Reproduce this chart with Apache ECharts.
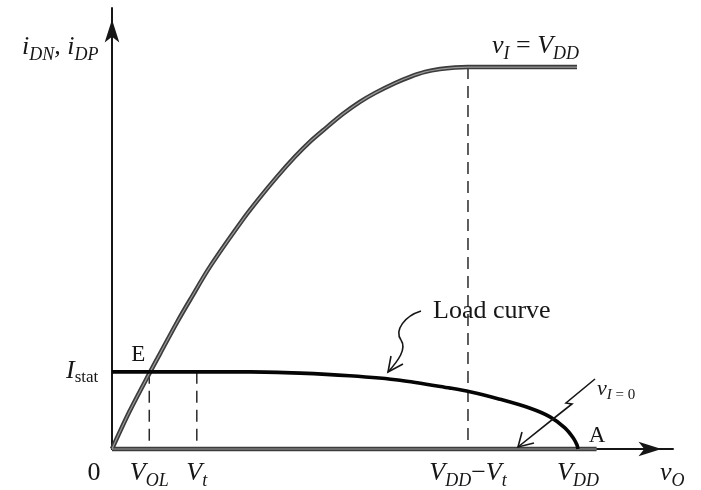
<!DOCTYPE html>
<html>
<head>
<meta charset="utf-8">
<script src="https://cdn.jsdelivr.net/npm/echarts@6/dist/echarts.min.js"></script>
<style>
  html, body { margin: 0; padding: 0; background: #fff; }
  #chart { width: 701px; height: 490px; }
</style>
</head>
<body>
<div id="chart"></div>
<script>
// Output voltage v_O in volts (V_DD = 5 V); currents normalised to the axis height.

// Driver NMOS current for v_I = V_DD (triode rise, then saturation)
const driverV = [0, 0.19, 0.41, 0.52, 0.70, 0.84, 1.05, 1.41, 1.59, 1.77, 1.96, 2.12, 2.29, 2.48, 2.66, 2.82, 3.04, 3.20, 3.36, 3.52, 3.68, 3.82, 4.99];
const driverI = [0, 0.086, 0.175, 0.218, 0.288, 0.339, 0.413, 0.522, 0.571, 0.617, 0.662, 0.696, 0.727, 0.760, 0.787, 0.807, 0.830, 0.844, 0.855, 0.8615, 0.865, 0.866, 0.866];

// Load device current (load curve)
const loadV = [0, 1.48, 2.02, 2.55, 3.09, 3.63, 3.84, 4.16, 4.48, 4.70, 4.86, 4.95, 4.99, 5.00];
const loadI = [0.175, 0.175, 0.172, 0.166, 0.156, 0.138, 0.130, 0.113, 0.093, 0.073, 0.048, 0.025, 0.009, 0];

// Driver current for v_I = 0 (zero current along the axis)
const offV = [0, 5.2];
const offI = [0, 0];

// Marked voltages on the v_O axis and the static current level
const markerKeys = ['VOL', 'Vt', 'VDDmVt', 'VDD'];
const markerV = [0.40, 0.91, 3.82, 5.00];
const I_STAT = 0.175;
const I_SAT = 0.866;

const pair = (xs, ys) => xs.map((x, i) => [x, ys[i]]);
const mv = k => markerV[markerKeys.indexOf(k)];

const FAMILY = '"Liberation Serif", "DejaVu Serif", serif';
const INK = '#161616';

const axisCommon = {
  type: 'value',
  min: 0,
  axisLine: {
    show: true, onZero: false,
    lineStyle: { color: INK, width: 2 },
    symbol: ['none', 'arrow'], symbolSize: [11, 23], symbolOffset: [0, -11.5]
  },
  axisTick: { show: false },
  axisLabel: { show: false },
  splitLine: { show: false }
};

function lineSeries(data, color, width, extra) {
  return Object.assign({
    type: 'line', data: data, showSymbol: false, silent: true, clip: false,
    lineStyle: { color: color, width: width, cap: 'butt', join: 'round' }
  }, extra || {});
}

function dashed(x, yTop) {
  return lineSeries([[x, yTop], [x, 0]], '#2a2a2a', 1.5, {
    lineStyle: { color: '#2a2a2a', width: 1.5, type: [12, 7] }, z: 1
  });
}

const smoothOpt = { smooth: 0.3 };

const chart = echarts.init(document.getElementById('chart'));
chart.setOption({
  animation: false,
  backgroundColor: '#fff',
  grid: { left: 112, right: 28, top: 8, bottom: 41 },
  xAxis: Object.assign({}, axisCommon, { max: 6.02 }),
  yAxis: Object.assign({}, axisCommon, { max: 1.0 }),
  series: [
    dashed(mv('VOL'), I_STAT),
    dashed(mv('Vt'), I_STAT),
    dashed(mv('VDDmVt'), I_SAT),
    lineSeries(pair(offV, offI), '#3c3c3c', 4.5, { z: 3 }),
    lineSeries(pair(offV, offI), '#9a9a9a', 1.2, { z: 4 }),
    lineSeries(pair(driverV, driverI), '#3c3c3c', 4.5, Object.assign({ z: 3 }, smoothOpt)),
    lineSeries(pair(driverV, driverI), '#9a9a9a', 1.2, Object.assign({ z: 4 }, smoothOpt)),
    lineSeries(pair(loadV, loadI), '#050505', 3.6, Object.assign({ z: 5 }, smoothOpt))
  ]
});

// ---- annotations: composed labels with subscripts, squiggle arrows ----
const px = (x, y) => chart.convertToPixel({ gridIndex: 0 }, [x, y]);
const measureCtx = document.createElement('canvas').getContext('2d');
const fontOf = p => (p.it ? 'italic ' : '') + p.size + 'px ' + FAMILY;

// parts: {t, size, it, dy, gap}
function composed(parts, x, y, align) {
  let w = 0;
  parts.forEach(p => {
    measureCtx.font = fontOf(p);
    p.w = measureCtx.measureText(p.t).width + (p.gap || 0);
    w += p.w;
  });
  let cx = align === 'center' ? x - w / 2 : x;
  return parts.map(p => {
    const el = {
      type: 'text', x: cx, y: y + (p.dy || 0), z: 10,
      style: { text: p.t, font: fontOf(p), fill: INK, align: 'left', verticalAlign: 'middle' }
    };
    cx += p.w;
    return el;
  });
}

const M = 26, S = 18, SUB = 8;
const main = (t, it) => ({ t: t, size: M, it: it !== false });
const sub = (t, it) => ({ t: t, size: S, it: it !== false, dy: SUB });

const origin = px(0, 0);
const labelY = origin[1] + 24;
const els = [];

els.push(...composed([{ t: '0', size: M }], origin[0] - 18, labelY, 'center'));
els.push(...composed([main('V'), sub('OL')], px(mv('VOL'), 0)[0], labelY, 'center'));
els.push(...composed([main('V'), sub('t')], px(mv('Vt'), 0)[0], labelY, 'center'));
els.push(...composed([main('V'), sub('DD'), { t: '\u2212', size: M }, main('V'), sub('t')], px(mv('VDDmVt'), 0)[0], labelY, 'center'));
els.push(...composed([main('V'), sub('DD')], px(mv('VDD'), 0)[0], labelY, 'center'));
els.push(...composed([main('v'), sub('O')], 660, labelY, 'left'));

// y-axis title and static current level
els.push(...composed([main('i'), sub('DN'), { t: ', ', size: M, it: true }, main('i'), sub('DP')], 22, 47, 'left'));
const stat = px(0, I_STAT);
els.push(...composed([main('I'), { t: 'stat', size: 17, dy: 7 }], 66, stat[1] - 1, 'left'));

// curve names
const sat = px(mv('VDDmVt'), I_SAT);
els.push(...composed([main('v'), sub('I'), { t: ' = ', size: M }, main('V'), sub('DD')], sat[0] + 24, sat[1] - 21, 'left'));
els.push(...composed([{ t: 'Load curve', size: M }], 433, 311, 'left'));
els.push(...composed([{ t: 'v', size: 22, it: true }, { t: 'I', size: 15, it: true, dy: 6 }, { t: ' = 0', size: 15, dy: 6 }], 597, 389, 'left'));

// operating points
const E = px(mv('VOL'), I_STAT);
els.push(...composed([{ t: 'E', size: 23 }], E[0] - 11, E[1] - 17, 'center'));
const A = px(mv('VDD'), 0);
els.push(...composed([{ t: 'A', size: 23 }], A[0] + 19, A[1] - 13, 'center'));

// squiggle arrow to the load curve
const stroke = { stroke: INK, lineWidth: 1.6, fill: null };
els.push({ type: 'bezierCurve', z: 9, shape: { x1: 421, y1: 311, cpx1: 405, cpy1: 316, cpx2: 394, cpy2: 330, x2: 401, y2: 340 }, style: stroke });
els.push({ type: 'bezierCurve', z: 9, shape: { x1: 401, y1: 340, cpx1: 407, cpy1: 349, cpx2: 398, cpy2: 361, x2: 388, y2: 372 }, style: stroke });
els.push({ type: 'polyline', z: 9, shape: { points: [[391, 356], [388, 372], [403, 364]] }, style: stroke });

// squiggle arrow for the v_I = 0 characteristic
els.push({ type: 'polyline', z: 9, shape: { points: [[595, 379], [566, 403], [572, 404], [558, 415], [518, 447]] }, style: stroke });
els.push({ type: 'polyline', z: 9, shape: { points: [[522, 432], [518, 447], [534, 443]] }, style: stroke });

chart.setOption({ graphic: { elements: els } });
</script>
</body>
</html>
